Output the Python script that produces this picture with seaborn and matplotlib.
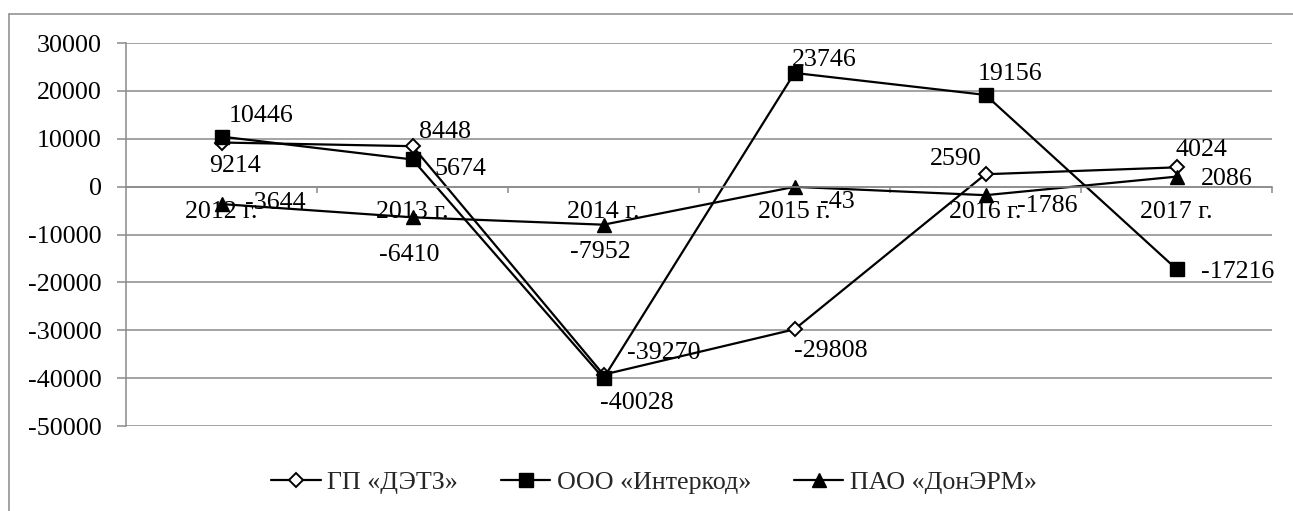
import matplotlib
matplotlib.use("Agg")
import matplotlib.pyplot as plt
from matplotlib.lines import Line2D
import seaborn as sns
import pandas as pd

# ---- data ----
years = ["2012 г.", "2013 г.", "2014 г.", "2015 г.", "2016 г.", "2017 г."]
series_names = ["ГП «ДЭТЗ»", "ООО «Интеркод»", "ПАО «ДонЭРМ»"]
detz = [9214, 8448, -39270, -29808, 2590, 4024]
interkod = [10446, 5674, -40028, 23746, 19156, -17216]
donerm = [-3644, -6410, -7952, -43, -1786, 2086]
yticks = [-50000, -40000, -30000, -20000, -10000, 0, 10000, 20000, 30000]

# label offsets in pixels (dx right, dy down to text centre)
offs_detz = [(14, 21), (33, -17), (60, -24), (36, 19), (-30, -18), (25, -20)]
offs_interkod = [(40, -23), (48, 7), (33, 22), (30, -16), (25, -24), (61, 0)]
offs_donerm = [(54, -4), (-3, 35), (-3, 25), (43, 12), (62, 8), (50, 0)]

sns.set_theme(style="white")
plt.rcParams["font.family"] = ["Liberation Serif", "DejaVu Serif"]

FS = 18.7
GRAY = "#8a8a8a"
W, H = 1293, 511

fig = plt.figure(figsize=(W / 100, H / 100), dpi=100)
ax = fig.add_axes([126 / W, 1 - 426 / H, (1272 - 126) / W, (426 - 43) / H])

styles = [
    dict(marker="D", markersize=7, markerfacecolor="white", markeredgecolor="black", markeredgewidth=1.4),
    dict(marker="s", markersize=10, markerfacecolor="black", markeredgecolor="black", markeredgewidth=1),
    dict(marker="^", markersize=10.5, markerfacecolor="black", markeredgecolor="black", markeredgewidth=1),
]
all_vals = [detz, interkod, donerm]
all_offs = [offs_detz, offs_interkod, offs_donerm]

handles = []
for name, vals, st in zip(series_names, all_vals, styles):
    df = pd.DataFrame({"x": range(len(years)), "value": vals})
    sns.lineplot(data=df, x="x", y="value", ax=ax, color="black", linewidth=1.6,
                 legend=False, **st)
    handles.append(ax.lines[-1])

for vals, offs in zip(all_vals, all_offs):
    for i, (v, (dx, dy)) in enumerate(zip(vals, offs)):
        ax.annotate(str(v), xy=(i, v), xytext=(dx, -(dy + 8.8)),
                    textcoords="offset pixels", ha="center", va="baseline",
                    fontsize=FS, color="black", zorder=5)

ax.set_xlim(-0.5, len(years) - 0.5)
ax.set_ylim(-50000, 30000)
ax.set_yticks(yticks)
ax.set_yticklabels([str(t) for t in yticks])
ax.set_xticks(range(len(years)))
ax.set_xticklabels(years)
ax.set_xticks([i + 0.5 for i in range(len(years))], minor=True)
ax.set_xlabel("")
ax.set_ylabel("")

ax.grid(axis="y", color=GRAY, linewidth=1.1)
ax.grid(axis="x", visible=False)
ax.set_axisbelow(True)

for s in ["top", "right"]:
    ax.spines[s].set_visible(False)
ax.spines["left"].set_color(GRAY)
ax.spines["left"].set_linewidth(1.1)
ax.spines["bottom"].set_position(("data", 0))
ax.spines["bottom"].set_color(GRAY)
ax.spines["bottom"].set_linewidth(1.1)

ax.tick_params(axis="y", which="major", left=True, length=6.5, width=1.1, color=GRAY,
               pad=10.8, labelsize=FS, labelcolor="black", direction="out")
ax.tick_params(axis="x", which="major", bottom=True, length=0, pad=10.5,
               labelsize=FS, labelcolor="black")
ax.tick_params(axis="x", which="minor", bottom=True, length=4.3, width=1.1,
               color=GRAY, direction="out")

fig.legend(handles, series_names, loc="center", bbox_to_anchor=(654 / W, 1 - 482 / H),
           ncol=3, frameon=False, handlelength=1.9, handletextpad=0.25,
           columnspacing=1.65, fontsize=FS, markerscale=0.95)

# outer chart border (top and left visible)
fig.add_artist(Line2D([9 / W, 1], [1 - 14 / H, 1 - 14 / H], transform=fig.transFigure,
                      color=GRAY, linewidth=1.1))
fig.add_artist(Line2D([9 / W, 9 / W], [0, 1 - 14 / H], transform=fig.transFigure,
                      color=GRAY, linewidth=1.1))

fig.savefig("out.png", dpi=100, facecolor="white")
